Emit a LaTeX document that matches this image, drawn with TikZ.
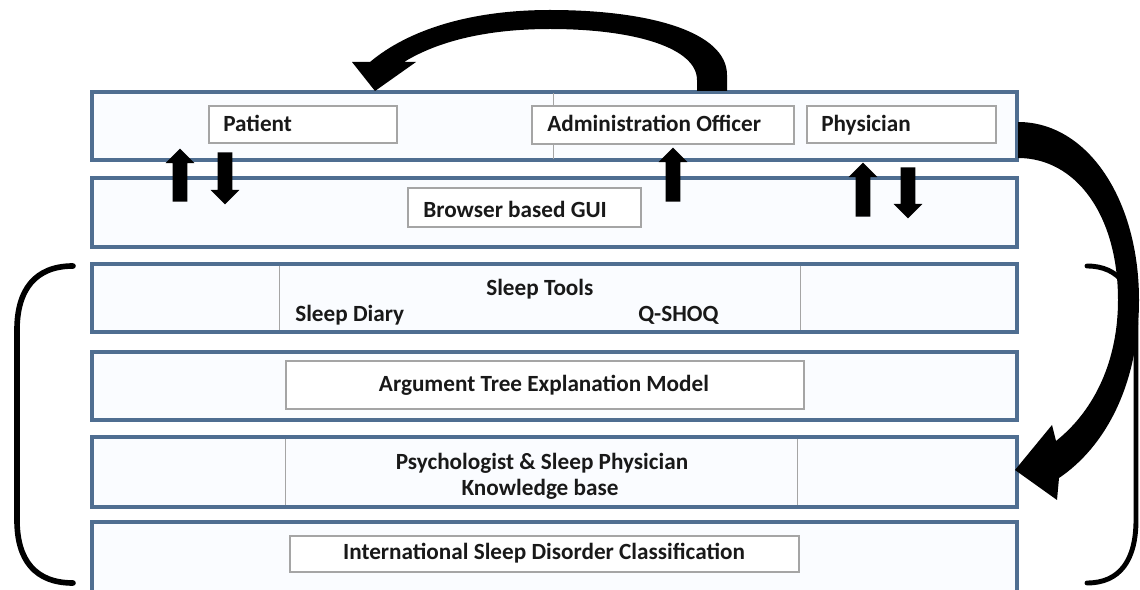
\documentclass[tikz,border=0pt]{standalone}
\usepackage{fontspec}
\setmainfont{Carlito}
\usetikzlibrary{fit,shapes.arrows}
\definecolor{layerblue}{RGB}{79,110,145}
\definecolor{layerfill}{RGB}{250,252,255}
\definecolor{boxgray}{RGB}{165,165,165}
\definecolor{txt}{RGB}{25,25,25}
\begin{document}
\begin{tikzpicture}[x=0.025cm,y=-0.025cm,
  layer/.style={draw=layerblue, line width=2.5pt, fill=layerfill, inner sep=0pt},
  ibox/.style={draw=boxgray, line width=0.8pt, fill=white, inner sep=0pt},
  plainbox/.style={draw=none, inner sep=0pt},
  lbl/.style={font=\bfseries\fontsize{16.5}{20}\selectfont, text=txt, inner sep=0pt},
  barrow/.style={single arrow, fill=black, draw=none, inner xsep=0pt, inner ysep=5pt,
                 single arrow head extend=5pt, single arrow tip angle=90},
  bigarrow/.style={fill=black},
  brace/.style={draw=black, line width=4pt, line cap=round}
]
\path[use as bounding box] (0,0) rectangle (1140,590);
\clip (0,0) rectangle (1140,590);

% layers
\node[layer, fit={(92,92)(1017,160)}] (L1) {};
\node[layer, fit={(92,178)(1017,247)}] (L2) {};
\node[layer, fit={(92,264)(1017,332)}] (L3) {};
\node[layer, fit={(92,352)(1017,420)}] (L4) {};
\node[layer, fit={(92,437)(1017,507)}] (L5) {};
\node[layer, fit={(92,522)(1017,610)}] (L6) {};

\draw[boxgray, line width=0.6pt] (553,93) -- (553,159);

% inner boxes
\node[ibox, fit={(209,106)(397,143)}] (patient) {};
\node[ibox, fit={(532,106)(794,144)}] (admin) {};
\node[ibox, fit={(807,106)(996,143)}] (phys) {};
\node[ibox, fit={(408,188)(641,227)}] (gui) {};
\node[plainbox, fit={(280,266)(800,330)}] (tools) {};
\draw[boxgray, line width=0.8pt] (tools.north west) -- (tools.south west) (tools.north east) -- (tools.south east);
\node[ibox, fit={(286,361)(804,409)}] (arg) {};
\node[plainbox, fit={(286,439)(797,505)}] (psy) {};
\draw[boxgray, line width=0.8pt] (psy.north west) -- (psy.south west) (psy.north east) -- (psy.south east);
\node[ibox, fit={(290,536)(799,572)}] (isdc) {};

% texts
\node[lbl, anchor=base west] (tpatient) at (223,132) {Patient};
\node[lbl, anchor=base west] (tadmin) at (547,132) {Administration Officer};
\node[lbl, anchor=base west] (tphys) at (821,132) {Physician};
\node[lbl, anchor=base west] (tgui) at (423,218) {Browser based GUI};
\node[lbl, anchor=base west] (ttools) at (486,296) {Sleep Tools};
\node[lbl, anchor=base west] (tdiary) at (295,322) {Sleep Diary};
\node[lbl, anchor=base west] (tqshoq) at (638,322) {Q-SHOQ};
\node[lbl, anchor=base] (targ) at (544,392) {Argument Tree Explanation Model};
\node[lbl, anchor=base] (tpsy1) at (542,470) {Psychologist \& Sleep Physician};
\node[lbl, anchor=base] (tpsy2) at (540,495) {Knowledge base};
\node[lbl, anchor=base] (tisdc) at (544,560) {International Sleep Disorder Classification};

% block arrows
\node[barrow, rotate=90, anchor=tail, minimum height=37.7pt] (pu) at (180,202) {};
\node[barrow, rotate=-90, anchor=tail, minimum height=37pt] (pd) at (225,152) {};
\node[barrow, rotate=90, anchor=tail, minimum height=38.4pt] (au) at (673,202) {};
\node[barrow, rotate=90, anchor=tail, minimum height=38.4pt] (hu) at (863,217) {};
\node[barrow, rotate=-90, anchor=tail, minimum height=36.3pt] (hd) at (908,167) {};

% brackets
\draw[brace] (73,266) .. controls (35,266) and (17,290) .. (17,330) -- (17,520) .. controls (17,560) and (35,583) .. (73,583);
\draw[brace, line width=3.5pt] (1087,266) .. controls (1120,266) and (1136,290) .. (1136,330) -- (1136,520) .. controls (1136,560) and (1120,583) .. (1087,583);

% curved arrows
\fill[bigarrow] (727,91) -- (727,75) .. controls (727,32) and (650,10) .. (550,10)
  .. controls (470,10) and (408,30) .. (370,62) -- (352,62) -- (375,91) -- (416,62) -- (404,62)
  .. controls (440,40) and (490,29) .. (550,29) .. controls (635,29) and (697,48) .. (697,80) -- (697,91) -- cycle;
\fill[bigarrow] (1018,122) .. controls (1088,122) and (1139,200) .. (1139,300)
  .. controls (1139,385) and (1105,447) .. (1059,478) -- (1057,500) -- (1015,470) -- (1052,425) -- (1056,441)
  .. controls (1095,410) and (1118,360) .. (1118,300) .. controls (1118,215) and (1076,158) .. (1018,158) -- cycle;
\end{tikzpicture}
\end{document}
